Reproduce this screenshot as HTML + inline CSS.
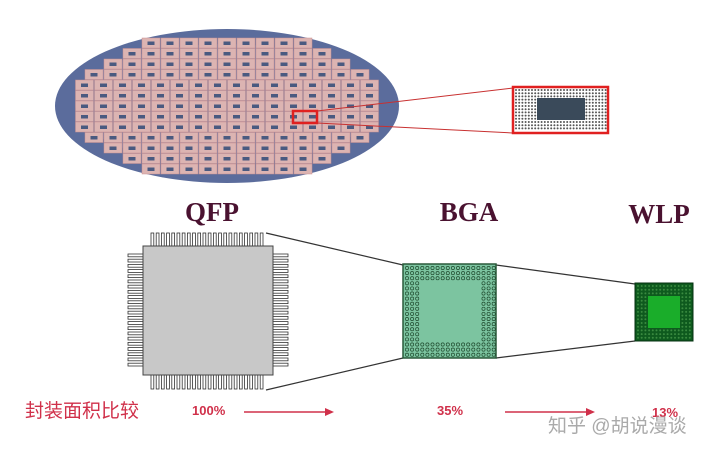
<!DOCTYPE html>
<html><head><meta charset="utf-8"><style>
html,body{margin:0;padding:0;background:#fff;width:720px;height:456px;overflow:hidden}
svg{display:block}
</style></head><body>
<svg id="s" width="720" height="456" viewBox="0 0 720 456">
<ellipse cx="227" cy="106" rx="172" ry="77" fill="#5b6c9c"/>
<ellipse cx="225" cy="104" rx="150" ry="60" fill="#8d97c0" opacity="0.35"/>
<g id="dies"></g>
<rect x="293" y="111" width="24" height="12" fill="none" stroke="#e02020" stroke-width="2.5"/>
<line x1="317" y1="111" x2="513" y2="88" stroke="#c83030" stroke-width="1"/>
<line x1="317" y1="123" x2="513" y2="133" stroke="#c83030" stroke-width="1"/>
<g>
<rect x="513" y="87" width="95" height="46" fill="#fff" stroke="#e02020" stroke-width="2.5"/>
<g id="insetdots"></g>
<rect x="537" y="98" width="48" height="22" fill="#3a4a5a"/>
</g>
<g font-family="'Liberation Serif',serif" font-weight="bold" font-size="27" fill="#4a1230">
<text x="212" y="221" text-anchor="middle">QFP</text>
<text x="469" y="221" text-anchor="middle">BGA</text>
<text x="659" y="223" text-anchor="middle">WLP</text>
</g>
<g stroke="#333" stroke-width="1.2">
<line x1="266" y1="233" x2="403" y2="265"/>
<line x1="266" y1="390" x2="403" y2="358"/>
<line x1="496" y1="265" x2="635" y2="284"/>
<line x1="496" y1="358" x2="635" y2="341"/>
</g>
<g id="qfp"></g>
<g>
<rect x="403" y="264" width="93" height="94" fill="#7cc4a0" stroke="#2a5a3a" stroke-width="1.5"/>
<g id="bgaballs"></g>
</g>
<g>
<rect x="635" y="283" width="58" height="58" fill="#0e5a1e" stroke="#043010"/>
<g id="wlpballs"></g>
<rect x="648" y="296" width="32" height="32" fill="#1aad2a"/>
</g>
<text x="25" y="417" font-family="'Liberation Sans','Noto Sans CJK SC',sans-serif" font-size="19" fill="#d0304a">封装面积比较</text>
<g font-family="'Liberation Sans',sans-serif" font-weight="bold" font-size="13" fill="#d0304a">
<text x="192" y="415">100%</text>
<text x="437" y="415">35%</text>
<text x="652" y="417">13%</text>
</g>
<g stroke="#d0304a" stroke-width="1.5" fill="#d0304a">
<line x1="244" y1="412" x2="326" y2="412"/><polygon points="334,412 325,408 325,416" stroke="none"/>
<line x1="505" y1="412" x2="587" y2="412"/><polygon points="595,412 586,408 586,416" stroke="none"/>
</g>
<text x="548" y="432" font-family="'Liberation Sans','Noto Sans CJK SC',sans-serif" font-size="19" fill="#aaa">知乎 @胡说漫谈</text>
</svg>
<script>
var NS="http://www.w3.org/2000/svg";
function mk(p,t,a){var e=document.createElementNS(NS,t);for(var k in a)e.setAttribute(k,a[k]);p.appendChild(e);return e;}
var dies=document.getElementById('dies');
for(var r=0;r<13;r++){
 var y=38+r*10.5;
 var dy=(y+5-106)/77;
 var half=Math.sqrt(Math.max(0,1-dy*dy))*172-12;
 var n=Math.floor(half*2/19);
 var x0=227-n*19/2;
 for(var c=0;c<n;c++){
  var x=x0+c*19;
  mk(dies,'rect',{x:x+0.5,y:y,width:18,height:10,fill:'#dcb4b2',stroke:'#c99090','stroke-width':0.5});
  mk(dies,'rect',{x:x+6,y:y+3.5,width:7,height:3.5,fill:'#4a5a80'});
 }
}
var ins=document.getElementById('insetdots');
for(var yy=90;yy<131;yy+=3.2)for(var xx=516;xx<606;xx+=3.2)mk(ins,'circle',{cx:xx,cy:yy,r:1,fill:'#555'});
var q=document.getElementById('qfp');
for(var i=0;i<22;i++){var px=151+i*5.2;
 mk(q,'rect',{x:px,y:233,width:2.8,height:13,fill:'#fff',stroke:'#333','stroke-width':0.8});
 mk(q,'rect',{x:px,y:375,width:2.8,height:14,fill:'#fff',stroke:'#333','stroke-width':0.8});
 var py=254+i*5.2;
 mk(q,'rect',{x:128,y:py,width:15,height:2.8,fill:'#fff',stroke:'#333','stroke-width':0.8});
 mk(q,'rect',{x:273,y:py,width:15,height:2.8,fill:'#fff',stroke:'#333','stroke-width':0.8});
}
mk(q,'rect',{x:143,y:246,width:130,height:129,fill:'#c8c8c8',stroke:'#444','stroke-width':1});
var b=document.getElementById('bgaballs');
for(var r=0;r<18;r++)for(var c=0;c<18;c++){
 if(r>=3&&r<15&&c>=3&&c<15)continue;
 mk(b,'circle',{cx:407+c*5.1,cy:268+r*5.1,r:1.6,fill:'none',stroke:'#1f4a2e','stroke-width':0.7});
}
var w=document.getElementById('wlpballs');
for(var r=0;r<15;r++)for(var c=0;c<15;c++)mk(w,'circle',{cx:638+c*3.7,cy:286+r*3.7,r:1,fill:'#3a8a40'});
</script>
</body></html>
